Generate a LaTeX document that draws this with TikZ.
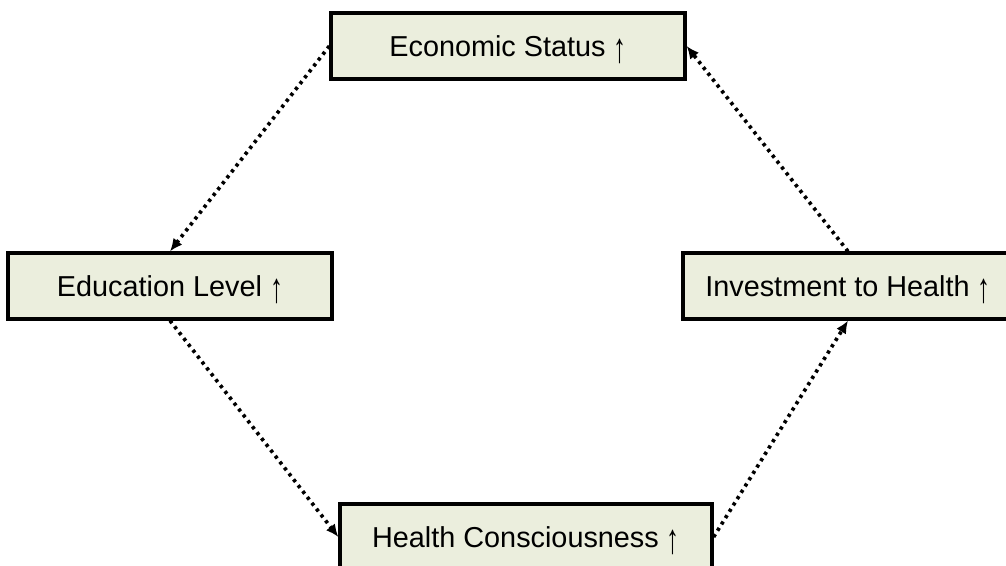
\documentclass[tikz,border=0pt]{standalone}
\usepackage{fontspec}
\setmainfont{Liberation Sans}
\usetikzlibrary{arrows.meta,positioning}
\definecolor{boxfill}{RGB}{235,238,221}
\newcommand{\upmark}{\smash{\raisebox{-0.2em}{\scalebox{0.9}[1.45]{↑}}}}

\begin{document}
\begin{tikzpicture}[
    auto,
    node distance=6cm,
    >={Latex[length=9pt,width=8pt]},
    font=\fontsize{20.5}{24}\selectfont,
    factor/.style={
		rectangle,
		draw=black,
		line width=2.3pt,
		text centered,
		inner sep=0pt,
		minimum height=1.65cm,
		fill=boxfill
	},
	link/.style={
		->,
		line width=2.6pt,
		dash pattern=on 2.3pt off 3pt
	}
  ]
    % frame of the picture
  \useasboundingbox (-12.7,1.15) rectangle (12.45,-13);
  \clip (-12.7,1.15) rectangle (12.45,-13);

    % We start by placing the blocks
  \node [factor, minimum width=8.85cm] (econ) {Economic Status \upmark};

  \node [factor, minimum width=8.1cm, below of=econ, xshift=-8.45cm] (edu)
  {Education Level \upmark};

  \node [factor, minimum width=8.25cm, below of=econ, xshift=8.5cm] (invest)
  {Investment to Health \upmark};

  \node [factor, minimum width=9.3cm, below of=edu, xshift=8.9cm, yshift=-0.275cm] (health)
  {Health Consciousness \upmark};

 \draw [link] (econ.west) -- (edu.north);
 \draw [link] (edu.south) -- (health.west);
 \draw [link] (health.east) -- (invest.south);
 \draw [link] (invest.north) -- (econ.east);

\end{tikzpicture}
\end{document}
